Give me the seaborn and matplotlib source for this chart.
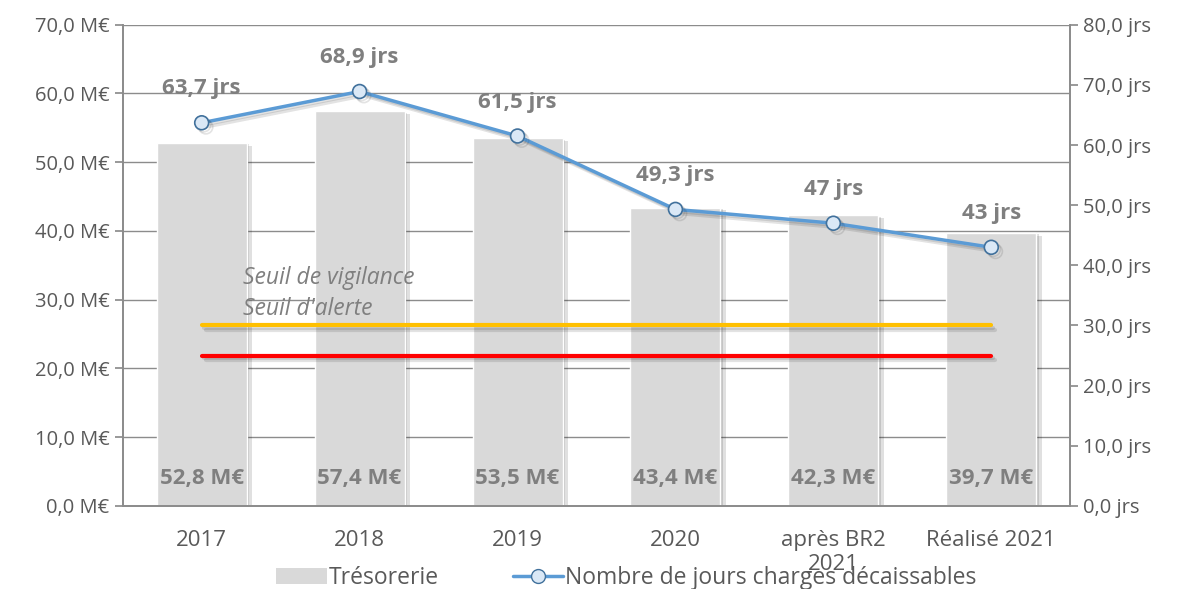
import matplotlib.pyplot as plt
import matplotlib.patheffects as pe
import pandas as pd
import seaborn as sns
from matplotlib.lines import Line2D
from matplotlib.patches import Patch

sns.set_theme(style='white')
plt.rcParams['font.family'] = ['Open Sans', 'DejaVu Sans']

categories = ['2017', '2018', '2019', '2020', 'après BR2\n2021', 'Réalisé 2021']
tresorerie = [52.8, 57.4, 53.5, 43.4, 42.3, 39.7]
jours = [63.7, 68.9, 61.5, 49.3, 47, 43]
jours_labels = ['63,7 jrs', '68,9 jrs', '61,5 jrs', '49,3 jrs', '47 jrs', '43 jrs']
seuil_vigilance = 30
seuil_alerte = 25

df = pd.DataFrame({'annee': categories, 'tresorerie': tresorerie, 'jours': jours})

gray_txt = '#7f7f7f'
tick_txt = '#595959'
shadow = [pe.SimplePatchShadow(offset=(4, -2), shadow_rgbFace='#000000', alpha=0.12),
          pe.SimplePatchShadow(offset=(2, -1), shadow_rgbFace='#000000', alpha=0.12),
          pe.Normal()]
line_shadow = [pe.SimpleLineShadow(offset=(3, -3), alpha=0.12),
               pe.SimpleLineShadow(offset=(1.5, -1.5), alpha=0.12), pe.Normal()]

fig, ax = plt.subplots(figsize=(11.8, 5.89), dpi=100)
fig.subplots_adjust(left=0.104, right=0.907, top=0.958, bottom=0.141)

sns.barplot(data=df, x='annee', y='tresorerie', color='#d9d9d9', saturation=1,
            width=0.57, ax=ax, zorder=2)
for p in ax.patches:
    p.set_path_effects(shadow)
ax.set_ylim(0, 70)
ax.set_yticks(range(0, 71, 10))
ax.set_yticklabels([f'{v},0 M€' for v in range(0, 71, 10)])
ax.yaxis.grid(True, color='#8c8c8c', linewidth=1)
ax.set_axisbelow(True)
ax.set_xlabel('')
ax.set_ylabel('')
ax.set_xlim(-0.5, len(categories) - 0.5)

for i, v in enumerate(tresorerie):
    ax.text(i, 4, f'{v:.1f} M€'.replace('.', ','), ha='center', va='center',
            fontsize=16, fontweight='bold', color=gray_txt, zorder=5)

ax2 = ax.twinx()
ax2.set_ylim(0, 80)
ax2.set_yticks(range(0, 81, 10))
ax2.set_yticklabels([f'{v},0 jrs' for v in range(0, 81, 10)])

x = list(range(len(categories)))
ax2.plot([x[0], x[-1]], [seuil_vigilance] * 2, color='#ffc000', linewidth=3,
         path_effects=line_shadow, zorder=3)
ax2.plot([x[0], x[-1]], [seuil_alerte] * 2, color='#ff0000', linewidth=3,
         path_effects=line_shadow, zorder=3)
sns.lineplot(x=x, y=jours, ax=ax2, color='#5b9bd5', linewidth=2.5,
             marker='o', markersize=10, markerfacecolor='#dae8f6',
             markeredgecolor='#41719c', markeredgewidth=1.2, zorder=4)
ax2.lines[-1].set_path_effects(line_shadow)
for i, (v, lab) in enumerate(zip(jours, jours_labels)):
    ax2.text(i, v + 3.9, lab, ha='center', va='bottom', fontsize=16,
             fontweight='bold', color=gray_txt)

ax2.text(0.26, 36.9, 'Seuil de vigilance', fontsize=16.5, style='italic', color=gray_txt)
ax2.text(0.26, 31.7, "Seuil d'alerte", fontsize=16.5, style='italic', color=gray_txt)

for a in (ax, ax2):
    a.spines['top'].set_visible(False)
    for s in ('left', 'right', 'bottom'):
        a.spines[s].set_color('#8c8c8c')
    a.tick_params(axis='y', labelsize=14.5, labelcolor=tick_txt, colors='#8c8c8c',
                  length=6, direction='out')
ax.tick_params(axis='x', length=0, pad=17, labelsize=16, labelcolor=tick_txt)
ax.tick_params(axis='y', labelcolor=tick_txt)
ax2.tick_params(axis='y', labelcolor=tick_txt)

handles = [Patch(facecolor='#d9d9d9', edgecolor='none', label='Trésorerie'),
           Line2D([0], [0], color='#5b9bd5', linewidth=2.5, marker='o', markersize=10,
                  markerfacecolor='#dae8f6', markeredgecolor='#41719c',
                  label='Nombre de jours charges décaissables')]
fig.legend(handles=handles, loc='lower center', bbox_to_anchor=(0.531, -0.037), ncol=2,
           frameon=False, fontsize=16.5, labelcolor=tick_txt, columnspacing=3.2,
           handlelength=2.2, handletextpad=0.1)

fig.savefig('out.png', dpi=100)
